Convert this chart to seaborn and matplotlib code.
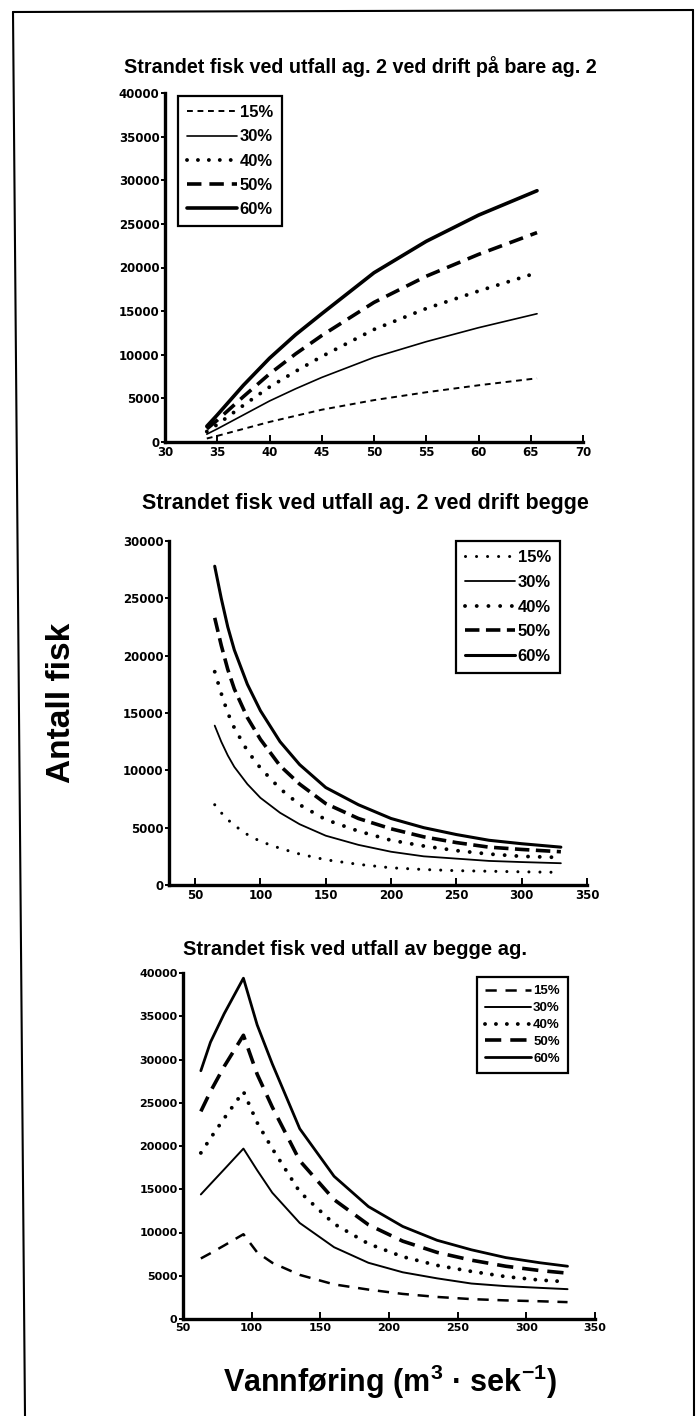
import numpy as np
import pandas as pd
import matplotlib
matplotlib.use("Agg")
import matplotlib.pyplot as plt
import seaborn as sns
from matplotlib.lines import Line2D

sns.set_theme(style="ticks")
plt.rcParams['font.family'] = ['Liberation Sans', 'DejaVu Sans']
plt.rcParams['text.color'] = 'black'
plt.rcParams['axes.labelcolor'] = 'black'
plt.rcParams['xtick.color'] = 'black'
plt.rcParams['ytick.color'] = 'black'
plt.rcParams['legend.labelcolor'] = 'black'
plt.rcParams['mathtext.fontset'] = 'custom'
plt.rcParams['mathtext.rm'] = 'Liberation Sans:bold'
plt.rcParams['mathtext.bf'] = 'Liberation Sans:bold'
plt.rcParams['mathtext.it'] = 'Liberation Sans:bold'

# ---------------- data ----------------
series_labels = ["15%", "30%", "40%", "50%", "60%"]

title_top = "Strandet fisk ved utfall ag. 2 ved drift på bare ag. 2"
top_x = [34, 35, 37.5, 40, 42.5, 45, 50, 55, 60, 65.6]
top_15 = [400, 700, 1500, 2300, 3000, 3700, 4800, 5700, 6500, 7300]
top_30 = [900, 1500, 3100, 4700, 6100, 7400, 9700, 11500, 13100, 14700]
top_40 = [1200, 2000, 4200, 6300, 8100, 9800, 12900, 15300, 17300, 19400]
top_50 = [1500, 2500, 5200, 7800, 10100, 12200, 16000, 19000, 21500, 24000]
top_60 = [1800, 3100, 6500, 9600, 12300, 14700, 19400, 23000, 26000, 28800]
top_xticks = [30, 35, 40, 45, 50, 55, 60, 65, 70]
top_yticks = [0, 5000, 10000, 15000, 20000, 25000, 30000, 35000, 40000]

title_mid = "Strandet fisk ved utfall ag. 2 ved drift begge"
mid_x = [65, 70, 75, 80, 90, 100, 115, 130, 150, 175, 200, 225, 250, 275, 300, 330]
mid_15 = [7000, 6300, 5700, 5200, 4400, 3800, 3200, 2700, 2200, 1800, 1500, 1350, 1250, 1200, 1150, 1100]
mid_30 = [13900, 12500, 11300, 10300, 8800, 7600, 6300, 5300, 4300, 3500, 2900, 2500, 2300, 2100, 2000, 1900]
mid_40 = [18600, 16700, 15000, 13700, 11700, 10200, 8400, 7000, 5700, 4700, 3900, 3400, 3000, 2700, 2500, 2400]
mid_50 = [23300, 20900, 18800, 17100, 14600, 12700, 10400, 8800, 7100, 5800, 4900, 4200, 3700, 3300, 3100, 2900]
mid_60 = [27800, 25000, 22500, 20500, 17500, 15200, 12500, 10500, 8500, 7000, 5800, 5000, 4400, 3900, 3600, 3300]
mid_xticks = [50, 100, 150, 200, 250, 300, 350]
mid_yticks = [0, 5000, 10000, 15000, 20000, 25000, 30000]

title_bot = "Strandet fisk ved utfall av begge ag."
bot_x = [63, 70, 80, 94, 104, 115, 135, 160, 185, 210, 235, 260, 285, 310, 330]
bot_15 = [7000, 7600, 8500, 9800, 7700, 6500, 5100, 4000, 3400, 2900, 2550, 2300, 2150, 2050, 1950]
bot_30 = [14400, 15600, 17300, 19700, 17200, 14600, 11100, 8300, 6500, 5400, 4700, 4100, 3800, 3600, 3450]
bot_40 = [19200, 20900, 23200, 26300, 22700, 19700, 14700, 11000, 8700, 7200, 6200, 5500, 4900, 4500, 4300]
bot_50 = [24000, 26300, 29200, 32800, 28300, 24500, 18300, 13800, 10900, 9000, 7700, 6800, 6100, 5600, 5300]
bot_60 = [28700, 32000, 35300, 39400, 34000, 29500, 22000, 16500, 13000, 10700, 9100, 8000, 7100, 6500, 6100]
bot_xticks = [50, 100, 150, 200, 250, 300, 350]
bot_yticks = [0, 5000, 10000, 15000, 20000, 25000, 30000, 35000, 40000]

y_label = "Antall fisk"
x_label = r"Vannføring (m$^{3}$ · sek$^{-1}$)"

# ---------------- styles ----------------
def dots(lw, gap):
    return dict(linewidth=lw, linestyle=(0, (0.01, gap)), dash_capstyle="round")

def dashes(lw, on, off):
    return dict(linewidth=lw, linestyle=(0, (on, off)), dash_capstyle="butt")

def solid(lw):
    return dict(linewidth=lw, linestyle="-")

top_styles = [dashes(1.4, 3.0, 2.4), solid(1.2), dots(2.8, 2.8), dashes(2.6, 4.0, 2.2), solid(2.6)]
mid_styles = [dots(2.2, 3.6), solid(1.3), dots(2.8, 3.0), dashes(2.6, 4.0, 1.8), solid(2.2)]
bot_styles = [dashes(1.8, 4.5, 3.5), solid(1.4), dots(2.8, 2.8), dashes(2.6, 4.5, 2.5), solid(2.0)]

W, H = 696, 1416
fig = plt.figure(figsize=(W / 100, H / 100), dpi=100)
fig.patch.set_facecolor("white")


def fx(px):
    return px / W


def fy(py):
    return 1 - py / H


def make_axes(left, right, top, bottom):
    return fig.add_axes([fx(left), fy(bottom), fx(right) - fx(left), fy(top) - fy(bottom)])


def draw_panel(ax, x, ys, styles, xlim, ylim, xticks, yticks, tick_size,
               leg_anchor, leg_font, leg_spacing, leg_hlen, leg_pad):
    for lab, y, st in zip(series_labels, ys, styles):
        df = pd.DataFrame({"x": x, "y": y})
        sns.lineplot(data=df, x="x", y="y", ax=ax, color="black", label=lab, **st)
    ax.set_xlim(*xlim)
    ax.set_ylim(*ylim)
    ax.set_xlabel("")
    ax.set_ylabel("")
    ax.set_facecolor("none")
    for s in ["top", "right"]:
        ax.spines[s].set_visible(False)
    for s in ["left", "bottom"]:
        ax.spines[s].set_linewidth(2.4)
        ax.spines[s].set_color("black")
    ax.set_xticks(xticks)
    ax.set_xticklabels([str(t) for t in xticks], fontfamily="DejaVu Sans",
                       fontweight="bold", fontsize=tick_size, color="black")
    ax.set_yticks(yticks)
    ax.set_yticklabels([str(t) for t in yticks], fontfamily="DejaVu Sans",
                       fontweight="bold", fontsize=tick_size, color="black")
    ax.tick_params(axis="x", direction="in", length=5, width=1.4, pad=3, colors="black")
    ax.tick_params(axis="y", direction="out", length=3, width=1.4, pad=1, colors="black")
    handles, labels = ax.get_legend_handles_labels()
    leg = ax.legend(handles, labels, loc="upper left",
                    bbox_to_anchor=(fx(leg_anchor[0]), fy(leg_anchor[1])),
                    bbox_transform=fig.transFigure, borderaxespad=0,
                    frameon=True, fancybox=False, framealpha=1,
                    prop=dict(family="Liberation Sans", weight="bold", size=leg_font),
                    labelspacing=leg_spacing, handlelength=leg_hlen,
                    handletextpad=0.15, borderpad=leg_pad, markerfirst=True)
    leg.get_frame().set_edgecolor("black")
    leg.get_frame().set_linewidth(1.6)
    return ax


ax1 = make_axes(165, 583, 93, 442)
draw_panel(ax1, top_x, [top_15, top_30, top_40, top_50, top_60], top_styles,
           (30, 70), (0, 40000), top_xticks, top_yticks, 8.5,
           (178, 96), 12, 0.55, 3.0, 0.55)

ax2 = make_axes(169, 587, 541, 885)
draw_panel(ax2, mid_x, [mid_15, mid_30, mid_40, mid_50, mid_60], mid_styles,
           (30, 350), (0, 30000), mid_xticks, mid_yticks, 8.5,
           (456, 541), 12, 0.58, 3.0, 0.55)

ax3 = make_axes(183, 595, 973, 1319)
draw_panel(ax3, bot_x, [bot_15, bot_30, bot_40, bot_50, bot_60], bot_styles,
           (50, 350), (0, 40000), bot_xticks, bot_yticks, 8.0,
           (477, 977), 9.5, 0.36, 3.5, 0.6)

# titles
fig.text(fx(360), fy(73), title_top, ha="center", va="baseline",
         fontsize=14.2, fontweight="bold", color="black")
fig.text(fx(365), fy(509), title_mid, ha="center", va="baseline",
         fontsize=15.5, fontweight="bold", color="black")
fig.text(fx(355), fy(955), title_bot, ha="center", va="baseline",
         fontsize=14.5, fontweight="bold", color="black")

# shared axis labels
fig.text(fx(62), fy(703), y_label, rotation=90, ha="center", va="center",
         fontsize=24, fontweight="bold", color="black")
fig.text(fx(390), fy(1392), x_label, ha="center", va="baseline",
         fontsize=22, fontweight="bold", color="black")

# page border
for (x0, y0, x1, y1) in [(13, 12, 693, 10), (13, 12, 25, 1416), (693, 10, 694, 1416)]:
    fig.add_artist(Line2D([fx(x0), fx(x1)], [fy(y0), fy(y1)],
                          transform=fig.transFigure, color="black", linewidth=1.5))

fig.savefig("out.png", dpi=100, facecolor="white")
